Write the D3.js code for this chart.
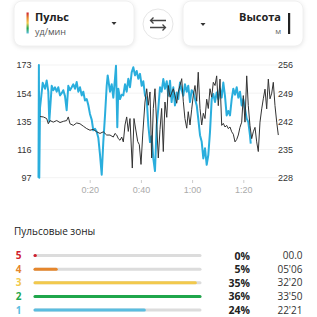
<!DOCTYPE html>
<html>
<head>
<meta charset="utf-8">
<script src="https://cdn.jsdelivr.net/npm/d3@7"></script>
<style>
  body { margin: 0; background: #fff; }
  svg { display: block; font-family: "Open Sans", "Noto Sans", sans-serif; }
  .card { fill: #fff; stroke: #f0f0f0; filter: drop-shadow(0 1px 2px rgba(0,0,0,0.10)); }
  .axis text { font-size: 9px; fill: #333; }
  .axis .domain { display: none; }
</style>
</head>
<body>
<div id="chart"></div>
<script>
// --- данные ---
// пульс: время (мин) и значение (уд/мин)
var pulseTime = [0, 0.15, 0.3, 0.59, 1.64, 2.54, 3.2, 3.83, 4.22, 5.16, 5.78, 6.45, 7.11, 7.73, 8.4, 9.06, 9.69,
  10.35, 11.0, 11.64, 12.3, 12.97, 13.6, 14.26, 14.92, 15.55, 16.2, 16.88, 17.5, 18.16, 18.83, 19.45,
  20.1, 20.8, 21.4, 22.07, 22.73, 23.36, 24.02, 24.69, 25.31, 25.98, 26.64, 27.03, 27.93, 28.6, 29.22,
  29.88, 30.27, 30.78, 31.17, 31.84, 32.5, 33.13, 33.79, 34.45, 35.08, 35.74, 36.4, 37.03, 37.7, 38.36,
  38.98, 39.65, 40.31, 40.94, 41.6, 42.27, 42.89, 43.55, 44.2, 44.84, 45.5, 46.17, 46.8, 47.46, 48.1,
  48.75, 49.4, 50.1, 50.7, 51.37, 52.0, 52.66, 53.3, 53.98, 54.6, 55.27, 55.94, 56.56, 57.2, 57.9, 58.5,
  59.18, 59.84, 60.47, 61.13, 61.8, 62.4, 63.09, 63.75, 64.38, 65.04, 65.7, 66.33, 66.99, 67.66, 68.28,
  68.95, 69.6, 70.23, 70.9, 71.56, 72.19, 72.85, 73.5, 74.14, 74.8, 75.47, 76.1, 76.76, 77.42, 78.05,
  78.7, 79.37, 80.0, 80.66, 81.33, 81.95, 82.6, 82.9];
var pulseValue = [97, 173, 97, 144, 161, 157, 162.5, 155, 135, 159, 156, 158, 155, 158, 152.5, 154, 156,
  152, 142.5, 159, 156, 158, 160, 157, 161.5, 155, 158, 152.5, 155, 149, 150, 146,
  140, 136, 129, 130, 128, 124, 112.5, 99, 121, 139, 159, 166, 155, 160, 151,
  164, 172.5, 131, 157, 150, 153, 152.5, 160, 155, 163.7, 158, 168, 171.5, 166, 169,
  163.7, 167, 159, 162, 152.5, 150, 132.5, 121, 125, 110, 101.5, 132.5, 143.7, 158, 155,
  163.5, 157, 162, 152.3, 162.3, 148, 158, 145.7, 154.5, 150, 161.2, 156, 152.3, 160, 155, 159,
  148, 156, 154.5, 150, 145.7, 136.8, 125.7, 121.2, 110, 116.8, 105.7, 112.3, 127.9, 150, 153.4,
  148, 154.5, 150, 157, 151, 161.2, 152, 139, 142, 139, 150, 157, 153, 158, 151,
  155, 145.7, 150, 143.5, 136.8, 134.6, 125.7, 120];

// высота: время (мин) и значение (м)
var altTime = [0.59, 1.88, 3.2, 3.83, 4.49, 5.78, 7.11, 8.4, 9.69, 11.0, 11.64, 12.3, 13.6, 14.92, 16.2,
  17.5, 18.83, 20.1, 21.4, 22.73, 24.02, 25.31, 26.64, 27.93, 29.22, 29.88, 30.55, 31.17, 31.84, 32.5,
  33.13, 33.79, 34.45, 35.08, 35.74, 36.64, 37.3, 37.7, 38.75, 39.38, 40.04, 40.7, 41.6, 42.27, 42.89,
  43.55, 44.2, 44.84, 45.5, 46.17, 46.8, 47.46, 48.1, 48.75, 49.4, 50.1, 50.7, 51.37, 52.0, 52.66,
  53.3, 53.98, 54.6, 55.27, 55.94, 56.56, 57.2, 57.9, 58.5, 59.18, 59.84, 60.47, 61.13, 61.8, 62.4,
  63.09, 63.75, 64.38, 65.04, 65.7, 66.33, 66.99, 67.66, 68.28, 68.95, 69.6, 70.23, 70.9, 71.56, 72.19,
  72.85, 73.5, 74.14, 74.8, 75.47, 76.1, 76.76, 77.42, 78.05, 78.7, 79.37, 80.0, 80.66, 81.33, 81.95,
  82.6, 83.28, 83.9, 84.57, 85.23, 85.86, 86.52, 87.19, 87.81, 88.48, 89.14, 89.77, 90.43, 91.1, 91.72,
  92.38, 93.05, 93.67];
var altValue = [243.2, 243.1, 242.7, 241.4, 242.2, 241.8, 242.2, 241.7, 242, 242.2, 243.1, 241.4, 241, 241.6, 241.4,
  240.8, 240.2, 239.8, 240, 239.4, 239, 239.4, 238.6, 238.6, 238.1, 239, 238.6, 237.7, 237.3, 238.1,
  236.9, 241.1, 243.1, 239.5, 242.7, 230.4, 242.7, 241.1, 237, 236.2, 231.3, 238.6, 246.8, 250.1, 246,
  249.3, 232.9, 245.2, 250.1, 241.1, 232.9, 240, 245.2, 234.5, 246.8, 243, 250.9, 248, 249, 250.1,
  248.5, 246.5, 249.3, 250.9, 252.6, 247, 242.7, 240.3, 244.4, 241.1, 245, 248.5, 250.9, 247, 254.2,
  245.2, 241.1, 244, 242.7, 247.5, 245.2, 250.1, 248, 251.7, 250.9, 253.3, 245.9, 252.5, 241, 241.5,
  240.6, 241, 240.2, 240.6, 239.4, 238.8, 236.9, 237.5, 238.6, 240.5, 241.8, 248.4, 241.8, 253.3, 245.9,
  241, 237.7, 239.4, 240.5, 236.9, 234.5, 241.8, 245.1, 247.6, 250, 245.1, 252.5, 247.6, 249, 251.7,
  245.9, 241.8, 238.6];

var pulseTicks = [97, 116, 135, 154, 173];
var altTicks = [228, 235, 242, 249, 256];
var timeTicks = [20, 40, 60, 80];
var timeLabels = ["0:20", "0:40", "1:00", "1:20"];

// пульсовые зоны
var zoneNames = ["5", "4", "3", "2", "1"];
var zonePercent = [0, 5, 35, 36, 24];
var zoneTime = ["00.0", "05'06", "32'20", "33'50", "22'21"];
var zoneColors = ["#d0202e", "#e5862c", "#f2c94c", "#1fa64b", "#5bbde0"];

var W = 317, H = 317;
var svg = d3.select("#chart").append("svg")
  .attr("width", W)
  .attr("height", H);

// --- шапка ---
svg.append("rect").attr("class", "card")
  .attr("x", 14).attr("y", 1).attr("width", 120).attr("height", 45).attr("rx", 8);
svg.append("rect").attr("class", "card")
  .attr("x", 183).attr("y", 1).attr("width", 120).attr("height", 45).attr("rx", 8);

var grad = svg.append("defs").append("linearGradient")
  .attr("id", "zoneGrad").attr("x1", 0).attr("y1", 0).attr("x2", 0).attr("y2", 1);
grad.selectAll("stop")
  .data(zoneColors)
  .enter().append("stop")
  .attr("offset", function (d, i) { return (i / (zoneColors.length - 1) * 100) + "%"; })
  .attr("stop-color", function (d) { return d; });

svg.append("rect").attr("x", 26.5).attr("y", 12.5).attr("width", 2.2).attr("height", 21)
  .attr("fill", "url(#zoneGrad)");
svg.append("text").attr("x", 35).attr("y", 20.5).text("Пульс")
  .style("font-size", "11px").style("font-weight", "700").style("fill", "#222");
svg.append("text").attr("x", 35).attr("y", 35).text("уд/мин")
  .style("font-size", "9px").style("fill", "#555");
svg.append("path").attr("d", "M111.5,22 L116.5,22 L114,25 Z").attr("fill", "#333");

// кнопка переключения
svg.append("circle").attr("cx", 158).attr("cy", 24).attr("r", 15)
  .attr("fill", "#fff").attr("stroke", "#e6e6e6");
svg.append("path")
  .attr("d", "M166,20.5 L150.5,20.5 M153.5,17.5 L150.5,20.5 L153.5,23.5 M150,27.5 L165.5,27.5 M162.5,24.5 L165.5,27.5 L162.5,30.5")
  .attr("fill", "none").attr("stroke", "#444").attr("stroke-width", 1.3);

svg.append("path").attr("d", "M200.5,23 L205.5,23 L203,26 Z").attr("fill", "#333");
svg.append("text").attr("x", 281).attr("y", 20.5).attr("text-anchor", "end").text("Высота")
  .style("font-size", "11px").style("font-weight", "700").style("fill", "#222");
svg.append("text").attr("x", 281).attr("y", 34).attr("text-anchor", "end").text("м")
  .style("font-size", "8px").style("fill", "#666");
svg.append("rect").attr("x", 288).attr("y", 13).attr("width", 2.2).attr("height", 21).attr("fill", "#222");

// --- график ---
var x = d3.scaleLinear().domain([0, 93.67]).range([38.5, 278.3]);
var yPulse = d3.scaleLinear().domain([97, 173]).range([177.7, 65]);
var yAlt = d3.scaleLinear().domain([228, 256]).range([177.7, 65]);

// сетка
svg.append("g")
  .selectAll("line")
  .data(pulseTicks)
  .enter().append("line")
  .attr("x1", 38.5).attr("x2", 278)
  .attr("y1", function (d) { return yPulse(d); })
  .attr("y2", function (d) { return yPulse(d); })
  .attr("stroke", "#f3f3f3");

var gLeft = svg.append("g").attr("class", "axis")
  .attr("transform", "translate(38.5,0)")
  .call(d3.axisLeft(yPulse).tickValues(pulseTicks).tickSize(0).tickPadding(7));

var gRight = svg.append("g").attr("class", "axis")
  .attr("transform", "translate(278,0)")
  .call(d3.axisRight(yAlt).tickValues(altTicks).tickSize(0).tickPadding(0));

var gBottom = svg.append("g").attr("class", "axis")
  .attr("transform", "translate(0,180)")
  .call(d3.axisBottom(x).tickValues(timeTicks).tickSize(3).tickPadding(4)
    .tickFormat(function (d, i) { return timeLabels[i]; }));
gBottom.selectAll("text").style("fill", "#aaa");
gBottom.selectAll("line").attr("stroke", "#ccc");

var pulseLine = d3.line()
  .x(function (d, i) { return x(pulseTime[i]); })
  .y(function (d) { return yPulse(d); });
var altLine = d3.line()
  .x(function (d, i) { return x(altTime[i]); })
  .y(function (d) { return yAlt(d); });

svg.append("path").datum(pulseValue)
  .attr("d", pulseLine)
  .attr("fill", "none").attr("stroke", "#2aaedd").attr("stroke-width", 2)
  .attr("stroke-linejoin", "round");

svg.append("path").datum(altValue)
  .attr("d", altLine)
  .attr("fill", "none").attr("stroke", "#333").attr("stroke-width", 1)
  .attr("stroke-linejoin", "round");

// --- пульсовые зоны ---
svg.append("text").attr("x", 14).attr("y", 235).text("Пульсовые зоны")
  .style("font-size", "10px").style("fill", "#222");

var yRow = d3.scalePoint().domain(zoneNames).range([255.6, 310]);
var xBar = d3.scaleLinear().domain([0, d3.max(zonePercent)]).range([34, 201]);

var rows = svg.selectAll(".zone")
  .data(zoneNames)
  .enter().append("g")
  .attr("class", "zone")
  .attr("transform", function (d) { return "translate(0," + yRow(d) + ")"; });

rows.append("text").attr("x", 18.5).attr("y", 3.5).attr("text-anchor", "middle")
  .text(function (d) { return d; })
  .style("font-size", "10px").style("font-weight", "700")
  .style("fill", function (d, i) { return zoneColors[i]; });

rows.append("line")
  .attr("x1", xBar(0) + 1).attr("x2", xBar(d3.max(zonePercent)) - 1)
  .attr("stroke", "#dcdcdc").attr("stroke-width", 3).attr("stroke-linecap", "round");

rows.append("line")
  .attr("x1", xBar(0) + 1)
  .attr("x2", function (d, i) { return Math.max(xBar(zonePercent[i]) - 1, xBar(0) + 1.3); })
  .attr("stroke", function (d, i) { return zoneColors[i]; })
  .attr("stroke-width", 3).attr("stroke-linecap", "round");

rows.append("text").attr("x", 250).attr("y", 4).attr("text-anchor", "end")
  .text(function (d, i) { return zonePercent[i] + "%"; })
  .style("font-size", "10.5px").style("font-weight", "700").style("fill", "#222");

rows.append("text").attr("x", 302.5).attr("y", 3.5).attr("text-anchor", "end")
  .text(function (d, i) { return zoneTime[i]; })
  .style("font-size", "10px").style("fill", "#333");
</script>
</body>
</html>
